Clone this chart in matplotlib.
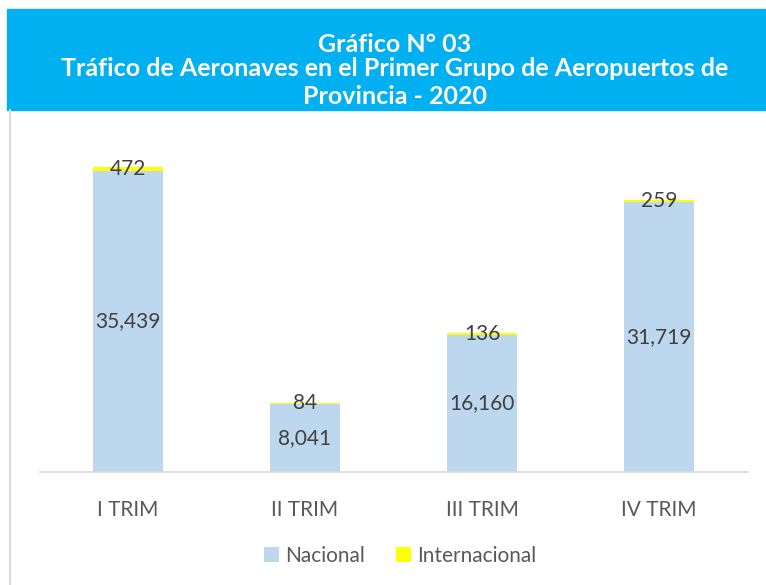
import matplotlib.pyplot as plt
from matplotlib.patches import Rectangle
from matplotlib.lines import Line2D
import numpy as np

plt.rcParams['font.family'] = ['Lato', 'DejaVu Sans']

categories = ['I TRIM', 'II TRIM', 'III TRIM', 'IV TRIM']
nacional = [35439, 8041, 16160, 31719]
internacional = [472, 84, 136, 259]

title_lines = ['Gráfico N° 03',
               'Tráfico de Aeronaves en el Primer Grupo de Aeropuertos de',
               'Provincia - 2020']

W, H = 766, 585
fig = plt.figure(figsize=(W / 100, H / 100), dpi=100)

# title banner
fig.patches.append(Rectangle((7 / W, 1 - 110 / H), 1 - 7 / W, 101 / H,
                             transform=fig.transFigure, color='#00B0F0', zorder=0))
# chart border (left)
fig.lines.append(Line2D([9.5 / W, 9.5 / W], [0, 1 - 110 / H], transform=fig.transFigure,
                        color='#D9D9D9', lw=1.5))
ys = [44, 68, 97]
for t, y in zip(title_lines, ys):
    fig.text(395 / W, 1 - y / H, t, ha='center', va='center', color='white',
             fontsize=18, fontweight='bold')

ax = fig.add_axes([39.5 / W, (H - 472) / H, 708 / W, 340 / H])
x = np.arange(len(categories))
w = 0.395
b1 = ax.bar(x, nacional, w, color='#BDD7EE', label='Nacional')
b2 = ax.bar(x, internacional, w, bottom=nacional, color='#FFFF00', label='Internacional')

for xi, n, i in zip(x, nacional, internacional):
    ax.text(xi, n / 2, f'{n:,}', ha='center', va='center', fontsize=15, color='#404040')
    ax.text(xi, n + i / 2, f'{i:,}', ha='center', va='center', fontsize=15, color='#404040')

ax.set_xlim(-0.5, len(categories) - 0.5)
ax.set_ylim(0, 40000)
ax.set_yticks([])
ax.set_xticks(x)
ax.set_xticklabels(categories, fontsize=15, color='#595959')
ax.tick_params(axis='x', length=0, pad=20)
for s in ['top', 'right', 'left']:
    ax.spines[s].set_visible(False)
ax.spines['bottom'].set_color('#D9D9D9')
ax.spines['bottom'].set_linewidth(1.2)

leg = fig.legend(handles=[b1, b2], loc='center', bbox_to_anchor=(400 / W, 1 - 556 / H),
                 ncol=2, frameon=False, fontsize=15, handlelength=0.7, handleheight=0.7,
                 handletextpad=0.3, columnspacing=1.5)
for t in leg.get_texts():
    t.set_color('#595959')

fig.savefig('out.png', dpi=100)
